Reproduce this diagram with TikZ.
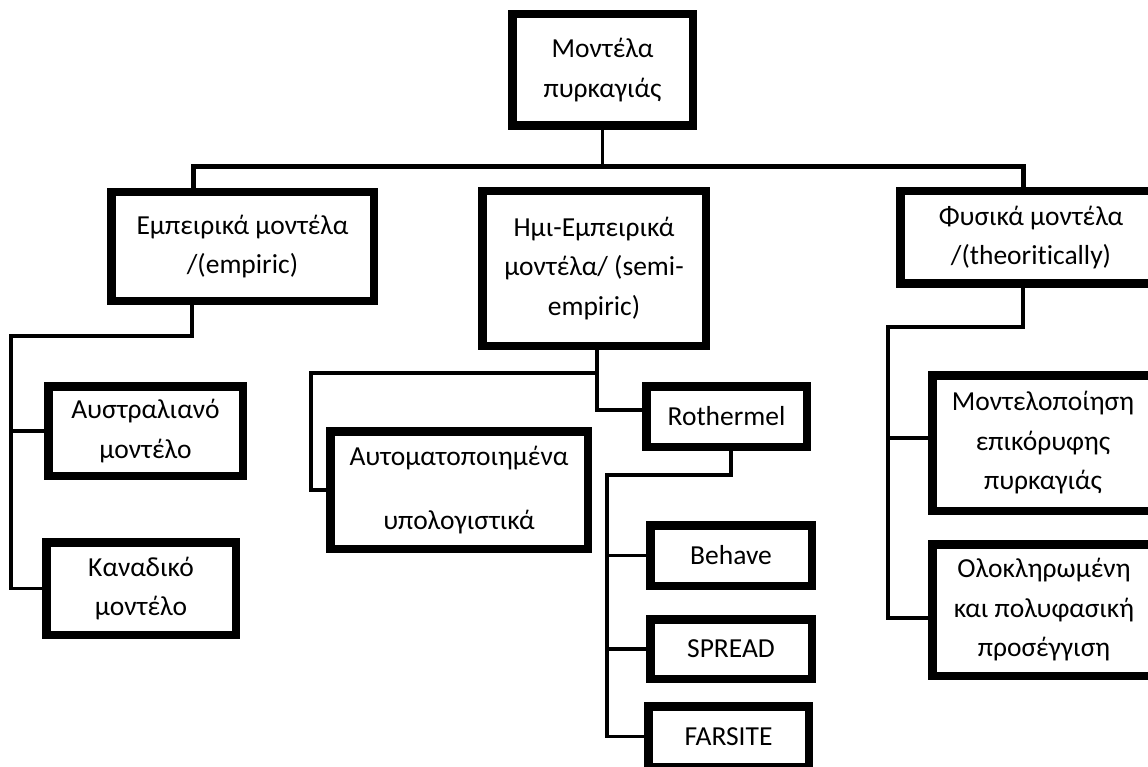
\documentclass[tikz,border=0pt]{standalone}
\usepackage{fontspec}
\setmainfont{Carlito}[Ligatures=NoCommon]
\begin{document}
\begin{tikzpicture}[x=1pt,y=-1pt,
  box/.style={draw=black, line width=8.5pt, fill=white, inner sep=0pt, outer sep=0pt,
    align=center, font=\fontsize{27.5}{39.5}\selectfont},
  conn/.style={draw=black, line width=3.5pt},
  barline/.style={draw=black, line width=5pt}]
\useasboundingbox (0,0) rectangle (1148,767);
\clip (0,0) rectangle (1148,767);
\fill[white] (0,0) rectangle (1148,767);

% boxes (centre, inner path size = outer size - line width)
\node[box, minimum width=180.5, minimum height=111.5] (T)  at (602.5,70)   {Μοντέλα\\πυρκαγιάς};
\node[box, minimum width=262.5, minimum height=108.5] (E)  at (242.5,246.5) {Εμπειρικά μοντέλα\\/(empiric)};
\node[box, minimum width=223.5, minimum height=154.5] (M)  at (594,268.5)  {Ημι-Εμπειρικά\\μοντέλα/ (semi-\\empiric)};
\node[box, minimum width=261.5, minimum height=92.5]  (P)  at (1031,237.5) {Φυσικά μοντέλα\\/(theoritically)};
\node[box, minimum width=194.5, minimum height=89.5]  (A)  at (145.5,431)  {Αυστραλιανό\\μοντέλο};
\node[box, minimum width=189.5, minimum height=92.5]  (K)  at (141,588.5)  {Καναδικό\\μοντέλο};
\node[box, minimum width=257.5, minimum height=117.5] (AU) at (459,490)    {Αυτοματοποιημένα\\[24pt]υπολογιστικά};
\node[box, minimum width=160.5, minimum height=60.5]  (R)  at (726.5,416.5) {Rothermel};
\node[box, minimum width=161.5, minimum height=60.5]  (B)  at (731,555.5)  {Behave};
\node[box, minimum width=161.5, minimum height=59.5]  (S)  at (731,649)    {SPREAD};
\node[box, minimum width=160.5, minimum height=60.5]  (F)  at (728.5,736.5) {FARSITE};
\node[box, minimum width=221.5, minimum height=135.5] (MO) at (1043,443)   {Μοντελοποίηση\\επικόρυφης\\πυρκαγιάς};
\node[box, minimum width=223.5, minimum height=131.5] (OL) at (1044,610)   {Ολοκληρωμένη\\και πολυφασική\\προσέγγιση};

% junction points
\coordinate (barL) at (193,167);
\coordinate (barR) at (1023,167);
\coordinate (e1) at (192,336);
\coordinate (e2) at (11,336);
\coordinate (m1) at (597,373);
\coordinate (m2) at (311,373);
\coordinate (m3) at (597,410);
\coordinate (r1) at (731,475);
\coordinate (r2) at (607,475);
\coordinate (p1) at (1023,327);
\coordinate (p2) at (888,327);
\coordinate (pb) at (888,618);
\coordinate (pa) at (888,438);

% connectors
\draw[conn, line width=3pt] (T.south) -- (T.south |- barL);
\draw[barline] (barL |- E.north) -- (barL) -- (barR) -- (barR |- P.north);
\draw[conn] (e1 |- E.south) -- (e1) -- (e2) -- (e2 |- K.west) -- (K.west);
\draw[conn] (e2 |- A.west) -- (A.west);
\draw[conn] (m1 |- M.south) -- (m3) -- (R.west |- m3);
\draw[conn] (m1) -- (m2) -- (m2 |- AU.west) -- (AU.west);
\draw[conn] (r1 |- R.south) -- (r1) -- (r2) -- (r2 |- F.west) -- (F.west);
\draw[conn] (r2 |- B.west) -- (B.west);
\draw[conn] (r2 |- S.west) -- (S.west);
\draw[conn] (p1 |- P.south) -- (p1) -- (p2) -- (pb) -- (OL.west |- pb);
\draw[conn] (pa) -- (MO.west |- pa);
\end{tikzpicture}
\end{document}
